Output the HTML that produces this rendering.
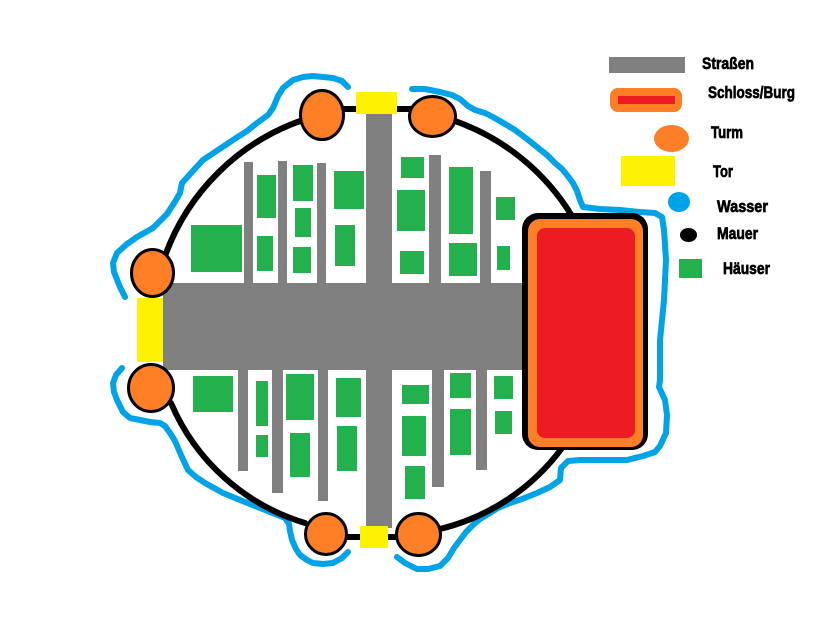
<!DOCTYPE html>
<html>
<head>
<meta charset="utf-8">
<style>
html,body{margin:0;padding:0;background:#fff;}
svg{display:block;}
text{font-family:"Liberation Sans Narrow","Liberation Sans",sans-serif;font-weight:bold;font-size:17px;fill:#000;stroke:#000;stroke-width:0.7px;}
</style>
</head>
<body>
<svg width="840" height="623" viewBox="0 0 840 623" xmlns="http://www.w3.org/2000/svg">
<rect width="840" height="623" fill="#fff"/>

<!-- Water -->
<g fill="none" stroke="#00A2E8" stroke-width="6" stroke-linecap="round" stroke-linejoin="round">
<polyline points="125,297 120,287 114,272 113,263 117,253 127,244 137,237 153,228 167,214 176,200 180,193 182,183 192,172 203,160 218,150 233,140 247,131 257,123 268,115 273,108 278,96 283,88 293,80 303,77 313,76 323,77 333,78 342,81 348,87"/>
<polyline points="412,89 425,89 440,92 452,95 460,99 468,106 475,110 485,113 493,117 505,124 515,130 527,139 537,147 547,155 555,163 562,169 567,175 573,183 577,191 580,200 583,207 600,209 620,210 640,212 655,213 662,217 664,230 665,245 666,260 665,280 664,300 662,320 660,340 660,360 660,380 659,387 665,400 667,415 666,433 660,446 655,452 643,456 627,460 600,460 580,460 568,461 561,468 560,480 550,487 537,493 522,499 510,503 498,508 490,513 480,519 473,525 466,532 460,540 454,548 448,558 440,566 428,569 417,569 405,563 397,557"/>
<polyline points="122,368 116,375 113,383 114,392 117,400 123,412 130,418 140,420 150,422 160,423 165,426 170,433 175,441 181,455 188,470 196,477 205,483 214,488 223,493 240,500 260,508 275,514 285,518 289,524 290,531 292,540 296,549 300,555 307,560 313,563 323,564 333,563 342,558 348,552"/>
</g>

<!-- Wall -->
<g fill="none" stroke="#000" stroke-width="6" stroke-linecap="round">
<path d="M165 256 A224 224 0 0 1 303 120"/>
<path d="M455 121 A225 225 0 0 1 572 216"/>
<path d="M562 448 A215 215 0 0 1 440 529"/>
<path d="M305 523 A212 212 0 0 1 171 403"/>
<line x1="340" y1="109" x2="415" y2="109"/>
<line x1="340" y1="537" x2="405" y2="537"/>
</g>

<!-- Roads -->
<g fill="#808080">
<rect x="163" y="283" width="362" height="87"/>
<rect x="366" y="112" width="26" height="416"/>
<rect x="244" y="162" width="9" height="122"/>
<rect x="278" y="161" width="9" height="123"/>
<rect x="317" y="163" width="9" height="121"/>
<rect x="429" y="155" width="12" height="129"/>
<rect x="480" y="171" width="11" height="113"/>
<rect x="238" y="369" width="10" height="102"/>
<rect x="272" y="369" width="11" height="124"/>
<rect x="318" y="369" width="10" height="132"/>
<rect x="432" y="369" width="12" height="118"/>
<rect x="476" y="369" width="11" height="101"/>
</g>

<!-- Houses -->
<g fill="#22B14C">
<rect x="191" y="225" width="51" height="47"/>
<rect x="257" y="175" width="19" height="43"/>
<rect x="257" y="236" width="16" height="35"/>
<rect x="293" y="165" width="20" height="36"/>
<rect x="295" y="208" width="16" height="29"/>
<rect x="293" y="247" width="18" height="26"/>
<rect x="334" y="171" width="30" height="38"/>
<rect x="335" y="225" width="20" height="41"/>
<rect x="401" y="157" width="23" height="21"/>
<rect x="397" y="190" width="28" height="41"/>
<rect x="400" y="251" width="24" height="23"/>
<rect x="449" y="167" width="24" height="67"/>
<rect x="449" y="243" width="28" height="33"/>
<rect x="496" y="197" width="19" height="23"/>
<rect x="497" y="246" width="13" height="24"/>

<rect x="193" y="376" width="40" height="36"/>
<rect x="256" y="381" width="12" height="45"/>
<rect x="256" y="435" width="12" height="22"/>
<rect x="286" y="374" width="28" height="46"/>
<rect x="290" y="433" width="20" height="44"/>
<rect x="336" y="378" width="25" height="39"/>
<rect x="337" y="426" width="20" height="45"/>
<rect x="402" y="385" width="27" height="19"/>
<rect x="402" y="416" width="24" height="40"/>
<rect x="405" y="466" width="20" height="33"/>
<rect x="450" y="373" width="21" height="25"/>
<rect x="450" y="409" width="21" height="46"/>
<rect x="494" y="376" width="19" height="23"/>
<rect x="495" y="411" width="17" height="23"/>
</g>

<!-- Castle -->
<rect x="522" y="213" width="126" height="237" rx="16" fill="#000"/>
<rect x="528" y="219" width="115" height="228" rx="12" fill="#FF7F27"/>
<rect x="537" y="228" width="98" height="210" rx="8" fill="#ED1C24"/>

<!-- Gates -->
<g fill="#FFF200">
<rect x="356" y="92" width="41" height="22"/>
<rect x="137" y="298" width="26" height="64"/>
<rect x="360" y="526" width="28" height="22"/>
</g>

<!-- Towers -->
<g fill="#FF7F27" stroke="#000" stroke-width="3">
<ellipse cx="322" cy="115" rx="21.5" ry="24.5"/>
<ellipse cx="432.5" cy="116.5" rx="23" ry="20"/>
<ellipse cx="152.5" cy="273" rx="21" ry="23.5"/>
<ellipse cx="151" cy="388" rx="22.5" ry="23.5"/>
<ellipse cx="326" cy="534" rx="20.5" ry="20.5"/>
<ellipse cx="418.5" cy="534.5" rx="22" ry="21"/>
</g>

<!-- Legend -->
<rect x="609" y="57" width="76" height="16" fill="#808080"/>
<rect x="610" y="88" width="72" height="24" rx="8" fill="#FF7F27"/>
<rect x="618" y="96" width="57" height="8" fill="#ED1C24"/>
<ellipse cx="671.5" cy="138.5" rx="17.5" ry="13.5" fill="#FF7F27"/>
<rect x="621" y="156" width="54" height="30" fill="#FFF200"/>
<ellipse cx="679" cy="202" rx="11" ry="10" fill="#00A2E8"/>
<ellipse cx="688.5" cy="235" rx="8.5" ry="7" fill="#000"/>
<rect x="679" y="259" width="23" height="19" fill="#22B14C"/>

<text x="702" y="69" textLength="52" lengthAdjust="spacingAndGlyphs">Straßen</text>
<text x="708" y="98" textLength="87" lengthAdjust="spacingAndGlyphs">Schloss/Burg</text>
<text x="711" y="138" textLength="32" lengthAdjust="spacingAndGlyphs">Turm</text>
<text x="713" y="177" textLength="20" lengthAdjust="spacingAndGlyphs">Tor</text>
<text x="717" y="212" textLength="51" lengthAdjust="spacingAndGlyphs">Wasser</text>
<text x="717" y="239" textLength="41" lengthAdjust="spacingAndGlyphs">Mauer</text>
<text x="723" y="274" textLength="47" lengthAdjust="spacingAndGlyphs">Häuser</text>
</svg>
</body>
</html>
